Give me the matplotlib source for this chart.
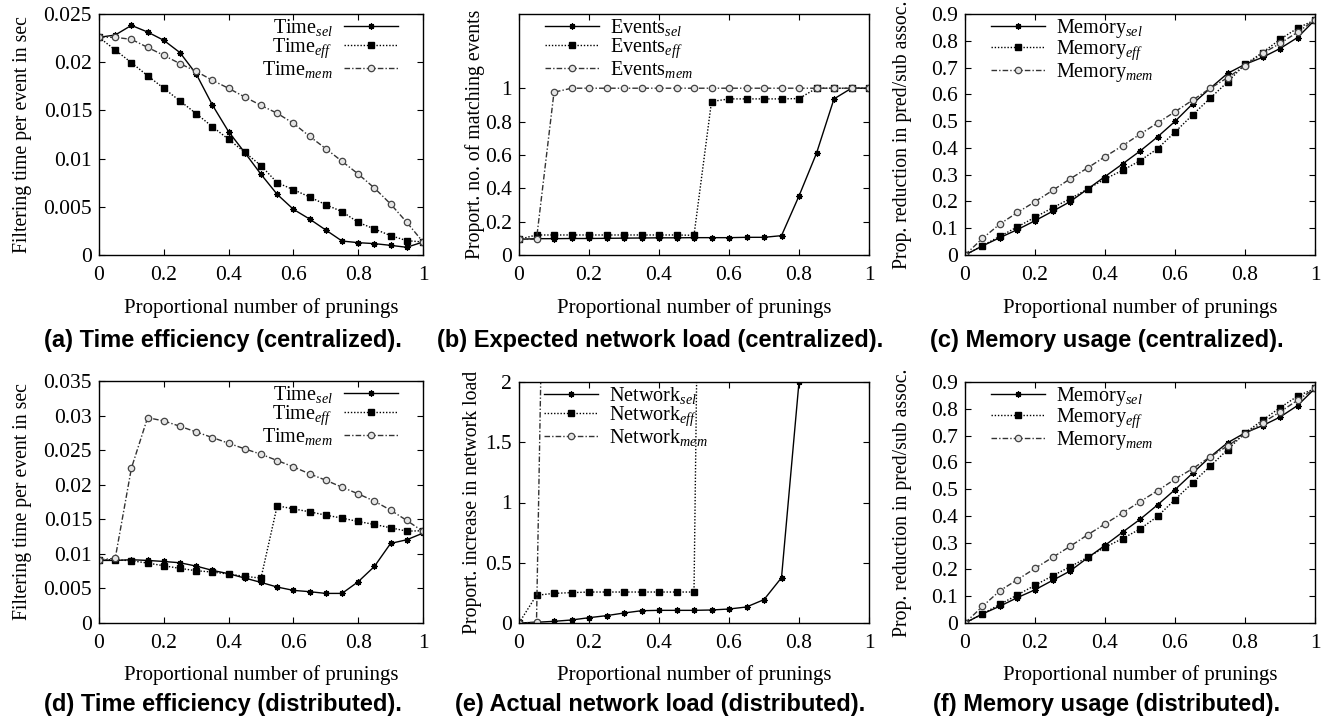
import matplotlib
matplotlib.use("Agg")
import matplotlib.pyplot as plt
import numpy as np
from matplotlib.ticker import FuncFormatter

plt.rcParams['font.family'] = ['Liberation Serif', 'DejaVu Serif']
plt.rcParams['mathtext.fontset'] = 'custom'
plt.rcParams['mathtext.rm'] = 'Liberation Serif'
plt.rcParams['mathtext.it'] = 'Liberation Serif:italic'

# ---------------- data ----------------
x = [0, 0.05, 0.1, 0.15, 0.2, 0.25, 0.3, 0.35, 0.4, 0.45, 0.5,
     0.55, 0.6, 0.65, 0.7, 0.75, 0.8, 0.85, 0.9, 0.95, 1.0]

# (a) time centralized
time_c_sel = [0.02258, 0.02282, 0.02382, 0.02313, 0.02227, 0.02099, 0.01878, 0.01556, 0.01279, 0.01062, 0.00837,
              0.00629, 0.00474, 0.00373, 0.00259, 0.00145, 0.00128, 0.00118, 0.00100, 0.00080, 0.00135]
time_c_eff = [0.02258, 0.02127, 0.01995, 0.01860, 0.01729, 0.01598, 0.01466, 0.01331, 0.01200, 0.01065, 0.00927,
              0.00750, 0.00678, 0.00602, 0.00522, 0.00450, 0.00339, 0.00270, 0.00201, 0.00149, 0.00135]
time_c_mem = [0.02258, 0.02258, 0.02237, 0.02154, 0.02071, 0.01985, 0.01905, 0.01812, 0.01729, 0.01639, 0.01552,
              0.01470, 0.01366, 0.01231, 0.01103, 0.00972, 0.00840, 0.00695, 0.00529, 0.00339, 0.00135]

# (b) events centralized
events_sel = [0.094, 0.098, 0.098, 0.099, 0.099, 0.100, 0.101, 0.102, 0.103, 0.103, 0.104,
              0.104, 0.104, 0.106, 0.106, 0.116, 0.354, 0.610, 0.936, 1.0, 1.0]
events_eff = [0.094, 0.120, 0.120, 0.120, 0.120, 0.120, 0.120, 0.120, 0.120, 0.120, 0.118,
              0.920, 0.936, 0.936, 0.936, 0.936, 0.938, 1.0, 1.0, 1.0, 1.0]
events_mem = [0.094, 0.094, 0.976, 1.0, 1.0, 1.0, 1.0, 1.0, 1.0, 1.0, 1.0,
              1.0, 1.0, 1.0, 1.0, 1.0, 1.0, 1.0, 1.0, 1.0, 1.0]

# (c) memory centralized
mem_c_sel = [0, 0.034, 0.065, 0.095, 0.128, 0.163, 0.199, 0.246, 0.293, 0.340, 0.388,
             0.441, 0.499, 0.564, 0.622, 0.678, 0.712, 0.738, 0.771, 0.812, 0.878]
mem_c_eff = [0, 0.035, 0.070, 0.105, 0.141, 0.176, 0.210, 0.246, 0.284, 0.316, 0.352,
             0.397, 0.459, 0.523, 0.585, 0.646, 0.712, 0.756, 0.805, 0.847, 0.878]
mem_c_mem = [0, 0.062, 0.116, 0.159, 0.199, 0.241, 0.284, 0.325, 0.367, 0.408, 0.451,
             0.493, 0.535, 0.578, 0.622, 0.662, 0.707, 0.753, 0.790, 0.832, 0.878]

# (d) time distributed
time_d_sel = [0.00905, 0.00905, 0.00915, 0.00905, 0.00890, 0.00871, 0.00823, 0.00761, 0.00713, 0.00650, 0.00587,
              0.00520, 0.00472, 0.00453, 0.00428, 0.00428, 0.00597, 0.00818, 0.01151, 0.01204, 0.01300]
time_d_eff = [0.00915, 0.00915, 0.00900, 0.00867, 0.00828, 0.00790, 0.00756, 0.00737, 0.00708, 0.00674, 0.00650,
              0.01695, 0.01651, 0.01608, 0.01560, 0.01517, 0.01468, 0.01425, 0.01377, 0.01329, 0.01334]
time_d_mem = [0.00915, 0.00934, 0.02239, 0.02970, 0.02922, 0.02845, 0.02763, 0.02682, 0.02600, 0.02518, 0.02441,
              0.02350, 0.02258, 0.02157, 0.02065, 0.01964, 0.01868, 0.01762, 0.01632, 0.01483, 0.01324]

# (e) network distributed (values beyond the axis range are clipped)
net_x_sel = [0, 0.05, 0.1, 0.15, 0.2, 0.25, 0.3, 0.35, 0.4, 0.45, 0.5, 0.55, 0.6, 0.65, 0.7, 0.75, 0.8]
net_sel = [0, 0.006, 0.014, 0.025, 0.044, 0.061, 0.083, 0.102, 0.105, 0.105, 0.105, 0.108, 0.116, 0.133, 0.194, 0.376, 2.0]
net_x_eff = [0, 0.05, 0.1, 0.15, 0.2, 0.25, 0.3, 0.35, 0.4, 0.45, 0.5, 0.55]
net_eff = [0, 0.230, 0.246, 0.252, 0.257, 0.257, 0.257, 0.257, 0.257, 0.257, 0.257, 12.0]
net_x_mem = [0, 0.05, 0.1]
net_mem = [0, 0.006, 8.3]

# (f) memory distributed
mem_d_sel = [0, 0.034, 0.063, 0.095, 0.124, 0.159, 0.194, 0.243, 0.290, 0.339, 0.387,
             0.441, 0.498, 0.559, 0.620, 0.673, 0.710, 0.737, 0.769, 0.812, 0.876]
mem_d_eff = [0, 0.034, 0.070, 0.105, 0.141, 0.176, 0.210, 0.245, 0.283, 0.315, 0.351,
             0.398, 0.461, 0.523, 0.585, 0.647, 0.710, 0.757, 0.804, 0.847, 0.876]
mem_d_mem = [0, 0.062, 0.121, 0.162, 0.204, 0.245, 0.286, 0.329, 0.370, 0.411, 0.453,
             0.494, 0.537, 0.576, 0.620, 0.661, 0.705, 0.748, 0.788, 0.832, 0.876]

x_ticks = [0, 0.2, 0.4, 0.6, 0.8, 1.0]
captions = ["(a) Time efficiency (centralized).", "(b) Expected network load (centralized).",
            "(c) Memory usage (centralized).", "(d) Time efficiency (distributed).",
            "(e) Actual network load (distributed).", "(f) Memory usage (distributed)."]
xlabel = "Proportional number of prunings"

# ---------------- layout ----------------
W, H = 1325, 726
fig = plt.figure(figsize=(W / 100, H / 100), dpi=100)
FS_TICK = 15.5
FS_LAB = 15
FS_YLAB = 14.2
FS_LEG = 14.5
FS_CAP = 17.0

def make_ax(l, r, t, b):
    return fig.add_axes([l / W, 1 - b / H, (r - l) / W, (b - t) / H])

STY = {
    'sel': dict(color='black', lw=1.0, ls='-', marker=(8, 2, 0), ms=4.5, mew=0.9),
    'eff': dict(color='black', lw=1.0, ls=(0, (1, 1.3)), marker='s', ms=4, mfc='black', mec='black'),
    'mem': dict(color='#333333', lw=1.0, ls=(0, (4, 1.5, 1, 1.5)), marker='o', ms=4.6,
                mfc='#e4e4e4', mec='#444444', mew=0.9),
}

fmt = FuncFormatter(lambda v, p: ('%g' % round(v, 6)))

def style(ax, l, r, t, b, ylim, yticks, ylabel, ylab_x):
    ax.set_xlim(0, 1)
    ax.set_ylim(*ylim)
    ax.set_xticks(x_ticks)
    ax.set_yticks(yticks)
    ax.xaxis.set_major_formatter(fmt)
    ax.yaxis.set_major_formatter(fmt)
    ax.tick_params(direction='in', length=4, width=0.8, top=True, right=True, labelsize=FS_TICK)
    ax.tick_params(axis='x', pad=8)
    ax.tick_params(axis='y', pad=5)
    for s in ax.spines.values():
        s.set_linewidth(1.0)
    ax.set_xlabel(xlabel, fontsize=FS_LAB, va='center')
    ax.xaxis.set_label_coords(0.5, -(308 - b) / (b - t) if b < 300 else -(675 - b) / (b - t))
    ax.set_ylabel(ylabel, fontsize=FS_YLAB, va='center', ha='center')
    ax.yaxis.set_label_coords((ylab_x - l) / (r - l), 0.5)

def legend(ax, l, r, t, b, right_side, hx):
    kw = dict(frameon=False, fontsize=FS_LEG, handlelength=2.7, handletextpad=0.55,
              labelspacing=-0.05, borderpad=0, borderaxespad=0)
    if right_side:
        ax.legend(loc='upper right', bbox_to_anchor=((hx - l) / (r - l), 1 - 3 / (b - t)),
                  markerfirst=False, **kw)
    else:
        ax.legend(loc='upper left', bbox_to_anchor=((hx - l) / (r - l), 1 - 3 / (b - t)), **kw)

panels = [
    ((99, 423, 14, 255), [(x, time_c_sel), (x, time_c_eff), (x, time_c_mem)], 'Time',
     (0, 0.025), np.arange(0, 0.0251, 0.005), "Filtering time per event in sec", 22, True, 398),
    ((519, 869, 14, 255), [(x, events_sel), (x, events_eff), (x, events_mem)], 'Events',
     (0, 1.445), np.arange(0, 1.01, 0.2), "Proport. no. of matching events", 475, False, 545),
    ((965, 1315, 14, 255), [(x, mem_c_sel), (x, mem_c_eff), (x, mem_c_mem)], 'Memory',
     (0, 0.9), np.arange(0, 0.91, 0.1), "Prop. reduction in pred/sub assoc.", 903, False, 991),
    ((99, 423, 381, 623), [(x, time_d_sel), (x, time_d_eff), (x, time_d_mem)], 'Time',
     (0, 0.035), np.arange(0, 0.0351, 0.005), "Filtering time per event in sec", 22, True, 398),
    ((519, 869, 382, 623), [(net_x_sel, net_sel), (net_x_eff, net_eff), (net_x_mem, net_mem)], 'Network',
     (0, 2), np.arange(0, 2.01, 0.5), "Proport. increase in network load", 472, False, 544),
    ((965, 1315, 382, 623), [(x, mem_d_sel), (x, mem_d_eff), (x, mem_d_mem)], 'Memory',
     (0, 0.9), np.arange(0, 0.91, 0.1), "Prop. reduction in pred/sub assoc.", 903, False, 991),
]

cap_x = [223, 660, 1107, 223, 660, 1107]

for i, (box, series, name, ylim, yticks, ylabel, ylab_x, rside, hx) in enumerate(panels):
    l, r, t, b = box
    ax = make_ax(l, r, t, b)
    for (xs, ys), key in zip(series, ['sel', 'eff', 'mem']):
        ax.plot(xs, ys, label=name + r'$_{' + key + '}$', **STY[key])
    style(ax, l, r, t, b, ylim, yticks, ylabel, ylab_x)
    legend(ax, l, r, t, b, rside, hx)
    cy = 340 if b < 300 else 705
    fig.text(cap_x[i] / W, 1 - cy / H, captions[i], ha='center', va='center',
             fontsize=FS_CAP, fontweight='bold', family=['Liberation Sans', 'DejaVu Sans'])

fig.savefig('out.png', dpi=100)
